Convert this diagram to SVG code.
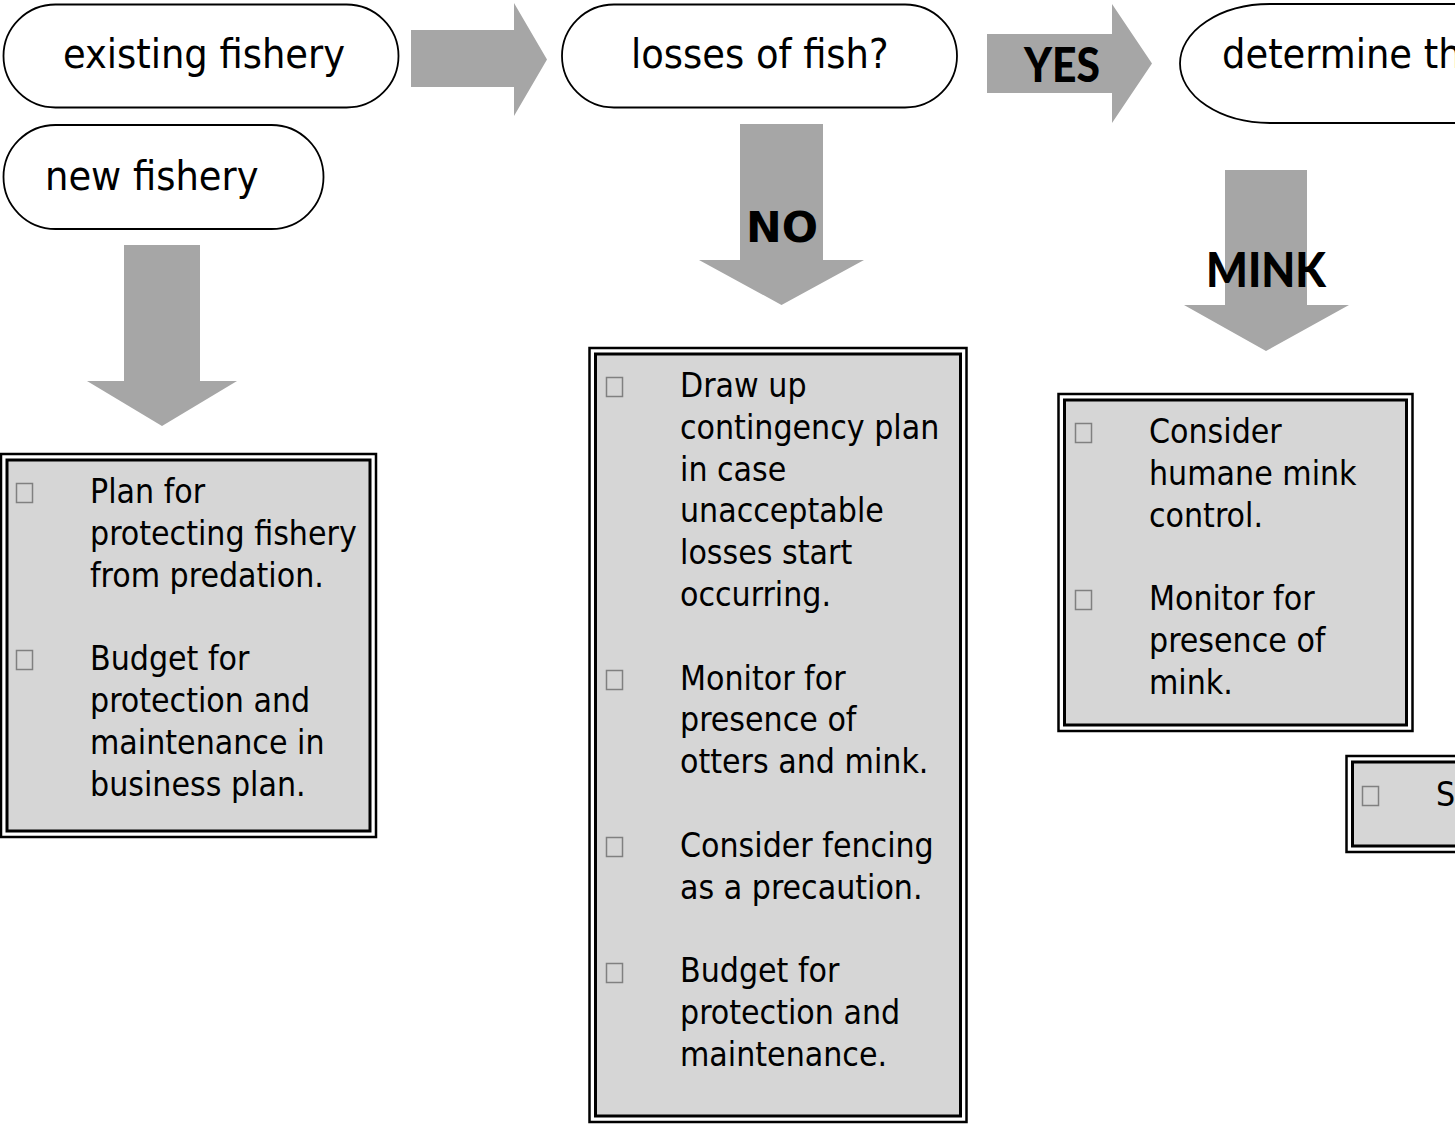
<svg xmlns="http://www.w3.org/2000/svg" width="1455" height="1124" viewBox="0 0 1455 1124">
<style>
.pill{fill:#fff;stroke:#000;stroke-width:1.8}
.hd{font-family:"DejaVu Sans Condensed","DejaVu Sans",sans-serif;font-stretch:condensed;font-size:41px;fill:#000}
.tx{font-family:"DejaVu Sans Condensed","DejaVu Sans",sans-serif;font-stretch:condensed;font-size:33.5px;fill:#000}
.arr{fill:#a6a6a6}
.lbl{font-family:"DejaVu Sans","Liberation Sans",sans-serif;font-weight:bold;font-size:42px;fill:#000}
.geo{font-family:Lato,"DejaVu Sans",sans-serif;font-weight:900;font-size:48px;fill:#000}
.bo{fill:#fff;stroke:#000;stroke-width:2.5}
.bi{fill:#d6d6d6;stroke:#000;stroke-width:3}
.bul{fill:none;stroke:#808080;stroke-width:1.5}
</style>
<rect width="1455" height="1124" fill="#fff"/>
<g id="connectors">
<polygon class="arr" points="411,30 514,30 514,3 547,59.5 514,116 514,87 411,87"/>
<polygon class="arr" points="987,34 1112,34 1112,4 1152,63.5 1112,123 1112,93 987,93"/>
<text class="geo" x="1024" y="82" textLength="76" lengthAdjust="spacingAndGlyphs">YES</text>
<polygon class="arr" points="124,245 200,245 200,381 237,381 162,426 87,381 124,381"/>
<polygon class="arr" points="740,124 823,124 823,260 864,260 781.5,305 699,260 740,260"/>
<text class="lbl" x="746" y="242" textLength="72" lengthAdjust="spacingAndGlyphs">NO</text>
<polygon class="arr" points="1225,170 1307,170 1307,305 1349,305 1266,351 1184,305 1225,305"/>
<text class="geo" x="1206" y="287" textLength="120" lengthAdjust="spacingAndGlyphs">MINK</text>
</g>
<g id="existing-fishery">
<rect class="pill" x="3.5" y="4.5" width="395" height="103" rx="52" ry="51.5"/>
<text class="hd" x="63" y="68">existing fishery</text>
</g>
<g id="new-fishery">
<rect class="pill" x="3.5" y="125" width="320" height="104" rx="52" ry="52"/>
<text class="hd" x="45" y="190">new fishery</text>
</g>
<g id="losses-of-fish">
<rect class="pill" x="562" y="4.5" width="395" height="103" rx="52" ry="51.5"/>
<text class="hd" x="631" y="68">losses of fish?</text>
</g>
<g id="determine">
<rect class="pill" x="1180" y="4" width="400" height="119" rx="90" ry="59.5"/>
<text class="hd" x="1222" y="68">determine th</text>
</g>
<g id="new-fishery-actions">
<rect class="bo" x="1" y="454" width="375" height="383"/>
<rect class="bi" x="7" y="460" width="363" height="371"/>
<rect class="bul" x="16.5" y="483.5" width="16" height="19"/>
<rect class="bul" x="16.5" y="650.5" width="16" height="19"/>
<text class="tx"><tspan x="90" y="503">Plan for</tspan><tspan x="90" y="544.8">protecting fishery</tspan><tspan x="90" y="586.6">from predation.</tspan><tspan x="90" y="670.2">Budget for</tspan><tspan x="90" y="712">protection and</tspan><tspan x="90" y="753.8">maintenance in</tspan><tspan x="90" y="795.6">business plan.</tspan></text>
</g>
<g id="no-losses-actions">
<rect class="bo" x="589.5" y="348" width="377" height="774"/>
<rect class="bi" x="595.5" y="354" width="365" height="762"/>
<rect class="bul" x="606.5" y="377.5" width="16" height="19"/>
<rect class="bul" x="606.5" y="670.5" width="16" height="19"/>
<rect class="bul" x="606.5" y="837.5" width="16" height="19"/>
<rect class="bul" x="606.5" y="963.5" width="16" height="19"/>
<text class="tx"><tspan x="680" y="397">Draw up</tspan><tspan x="680" y="438.8">contingency plan</tspan><tspan x="680" y="480.6">in case</tspan><tspan x="680" y="522.4">unacceptable</tspan><tspan x="680" y="564.2">losses start</tspan><tspan x="680" y="606">occurring.</tspan><tspan x="680" y="689.6">Monitor for</tspan><tspan x="680" y="731.4">presence of</tspan><tspan x="680" y="773.2">otters and mink.</tspan><tspan x="680" y="856.8">Consider fencing</tspan><tspan x="680" y="898.6">as a precaution.</tspan><tspan x="680" y="982.2">Budget for</tspan><tspan x="680" y="1024">protection and</tspan><tspan x="680" y="1065.8">maintenance.</tspan></text>
</g>
<g id="mink-actions">
<rect class="bo" x="1058.5" y="394" width="354" height="337"/>
<rect class="bi" x="1064.5" y="400" width="342" height="325"/>
<rect class="bul" x="1075.5" y="423.5" width="16" height="19"/>
<rect class="bul" x="1075.5" y="590.5" width="16" height="19"/>
<text class="tx"><tspan x="1149" y="443">Consider</tspan><tspan x="1149" y="484.8">humane mink</tspan><tspan x="1149" y="526.6">control.</tspan><tspan x="1149" y="610.2">Monitor for</tspan><tspan x="1149" y="652">presence of</tspan><tspan x="1149" y="693.8">mink.</tspan></text>
</g>
<g id="other-actions">
<rect class="bo" x="1346.5" y="756" width="140" height="96"/>
<rect class="bi" x="1352.5" y="762" width="140" height="84"/>
<rect class="bul" x="1362.5" y="786.5" width="16" height="19"/>
<text class="tx" x="1436" y="806">S</text>
</g>
</svg>
